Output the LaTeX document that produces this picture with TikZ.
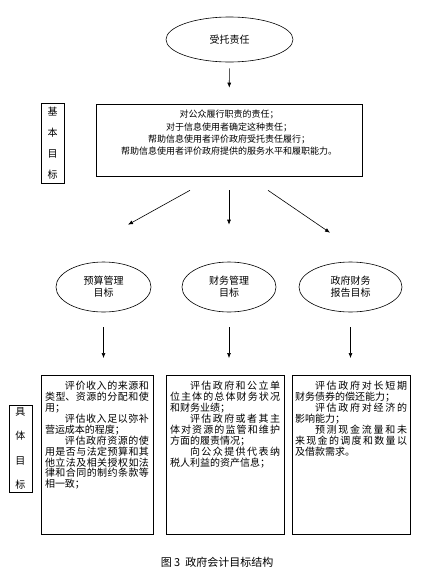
\documentclass[tikz,border=0pt]{standalone}
\usepackage{fontspec}
\setmainfont{Noto Sans CJK SC}
\usepackage{tikz}
\usetikzlibrary{shapes.geometric,calc,arrows.meta}
\XeTeXlinebreaklocale "zh"
\XeTeXlinebreakskip=0pt plus 3pt

\begin{document}
\begin{tikzpicture}[x=1pt, y=-1pt,
  goal/.style={draw, ellipse, line width=0.6pt, inner sep=0pt, align=center, font=\fontsize{10}{12}\selectfont},
  basicbox/.style={draw, line width=0.6pt, minimum width=266pt, minimum height=72pt, align=center, font=\fontsize{9}{12.3}\selectfont},
  target/.style={draw, line width=0.6pt, anchor=north, inner ysep=0pt, font=\fontsize{10}{10.9}\selectfont},
  tag/.style={draw, line width=0.6pt, minimum width=23pt, inner sep=0pt, align=center},
  arrow/.style={-{Latex[length=5pt,width=4pt]}, line width=0.6pt},
]
\useasboundingbox (0,0) rectangle (428,573);

\node[goal, minimum width=127pt, minimum height=45pt] (duty) at (229.5,39.5) {受托责任};
\node[basicbox] (basic) at (229,140) {对公众履行职责的责任；\\对于信息使用者确定这种责任；\\帮助信息使用者评价政府受托责任履行；\\帮助信息使用者评价政府提供的服务水平和履职能力。\\[2.5pt]\mbox{}};
\node[tag, minimum height=80pt, font=\fontsize{10}{21}\selectfont] (basictag) at (52.5,143) {基\\本\\目\\标};

\node[goal, minimum width=95pt, minimum height=50pt] (budget) at (103.5,287) {预算管理\\目标};
\node[goal, minimum width=94pt, minimum height=50pt] (finance) at (229,287) {财务管理\\目标};
\node[goal, minimum width=103pt, minimum height=50pt] (report) at (350.5,287) {政府财务\\报告目标};

\draw[arrow, shorten <=6pt, shorten >=16pt] (duty) -- (basic);
\draw[arrow] ($(basic.south)+(-39,14)$) -- ($(budget.north)+(24.5,-37)$);
\draw[arrow] ($(basic.south)+(0,14)$) -- ($(finance.north)+(0,-37)$);
\draw[arrow] ($(basic.south)+(39,14)$) -- ($(report.north)+(-20.5,-29)$);

% specific goals
\node[target, inner xsep=4pt] (goals1) at (97,375) {\begin{minipage}[t][159pt][t]{104pt}\parindent=2em\vspace*{6pt}%
评价收入的来源和\linebreak 类型、资源的分配和使\linebreak 用；\par
评估收入足以弥补\linebreak 营运成本的程度；\par
评估政府资源的使\linebreak 用是否与法定预算和其\linebreak 他立法及相关授权如法\linebreak 律和合同的制约条款等\linebreak 相一致；\end{minipage}};
\node[target, inner xsep=4pt] (goals2) at (225,375) {\begin{minipage}[t][159pt][t]{110pt}\parindent=2em\vspace*{6pt}%
评估政府和公立单\linebreak 位主体的总体财务状况\linebreak 和财务业绩；\par
评估政府或者其主\linebreak 体对资源的监管和维护\linebreak 方面的履责情况；\par
向公众提供代表纳\linebreak 税人利益的资产信息；\end{minipage}};
\node[target, inner xsep=3pt] (goals3) at (351,375) {\begin{minipage}[t][159pt][t]{112pt}\parindent=2em\vspace*{6pt}%
评估政府对长短期\linebreak 财务债券的偿还能力；\par
评估政府对经济的\linebreak 影响能力；\par
预测现金流量和未\linebreak 来现金的调度和数量以\linebreak 及借款需求。\end{minipage}};
\node[tag, minimum height=87pt, font=\fontsize{10}{24.5}\selectfont] (goaltag) at (20.5,448.5) {具\\体\\目\\标};

\draw[arrow, shorten <=15pt, shorten >=17pt] (budget) -- (budget |- goals1.north);
\draw[arrow, shorten <=15pt, shorten >=17pt] (finance) -- (finance |- goals2.north);
\draw[arrow, shorten <=15pt, shorten >=17pt] (report) -- (report |- goals3.north);

\node[font=\fontsize{11}{13}\selectfont] (caption) at (217,562) {图 3\ \ 政府会计目标结构};
\end{tikzpicture}
\end{document}
